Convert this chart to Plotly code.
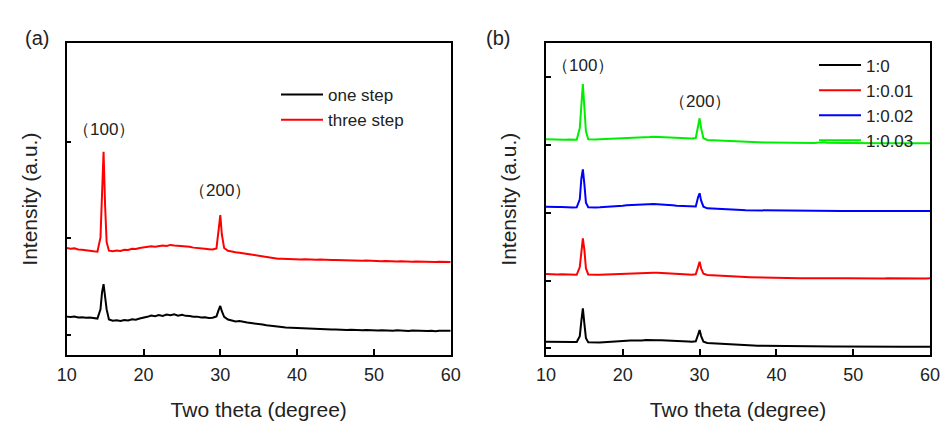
import plotly.graph_objects as go

# shared two-theta grid (degrees)
two_theta = [
    10.0, 10.5, 11.0, 11.5, 12.0, 12.5, 13.0, 13.5, 14.0,
    14.4, 14.6, 14.8, 15.0, 15.2,
    15.5, 16.0, 16.5, 17.0, 17.5, 18.0, 18.5, 19.0, 19.5, 20.0,
    20.5, 21.0, 21.5, 22.0, 22.5, 23.0, 23.5, 24.0, 24.5, 25.0,
    25.5, 26.0, 26.5, 27.0, 27.5, 28.0, 28.5, 29.0, 29.5,
    29.8, 30.0, 30.2,
    30.5, 31.0, 31.5, 32.0, 32.5, 33.0, 33.5, 34.0, 34.5, 35.0,
    35.5, 36.0, 36.5, 37.0, 37.5, 38.0, 38.5, 39.0, 39.5, 40.0,
    40.5, 41.0, 41.5, 42.0, 42.5, 43.0, 43.5, 44.0, 44.5, 45.0,
    45.5, 46.0, 46.5, 47.0, 47.5, 48.0, 48.5, 49.0, 49.5, 50.0,
    50.5, 51.0, 51.5, 52.0, 52.5, 53.0, 53.5, 54.0, 54.5, 55.0,
    55.5, 56.0, 56.5, 57.0, 57.5, 58.0, 58.5, 59.0, 59.5, 60.0,
]

# panel (a)
one_step = [
    190, 186, 192, 181, 184, 178, 182, 174, 170,
    265, 440, 527, 415, 265,
    160, 148, 152, 144, 156, 150, 162, 158, 170, 176, 188, 202, 194, 206, 198,
    212, 204, 214, 200, 208, 198, 196, 188, 190, 182, 184, 176, 178, 192,
    262, 300, 246,
    188, 160, 152, 140, 144, 134, 130, 124, 120, 112,
    108, 100, 94, 90, 86, 82, 78, 76, 72, 70,
    68, 66, 64, 62, 64, 60, 58, 60, 56, 58,
    54, 56, 52, 54, 50, 52, 48, 52, 48, 50,
    46, 50, 46, 48, 44, 48, 44, 46, 42, 46,
    44, 42, 46, 42, 44, 40, 44, 42, 40, 44,
]
three_step = [
    900, 892, 896, 884, 882, 874, 872, 866, 862,
    1010, 1420, 1896, 1340, 960,
    872, 866, 874, 870, 882, 880, 892, 890, 900, 904, 914, 918, 912, 922, 926,
    920, 932, 926, 924, 920, 914, 912, 904, 902, 894, 892, 888, 884, 896,
    1100, 1241, 1040,
    900, 872, 862, 856, 850, 844, 838, 830, 824, 816,
    808, 802, 798, 794, 790, 788, 786, 784, 786, 783,
    782, 784, 780, 781, 778, 780, 777, 778, 775, 776,
    774, 775, 772, 773, 770, 771, 768, 770, 767, 765,
    766, 764, 766, 763, 764, 761, 763, 760, 762, 759,
    760, 758, 759, 757, 758, 756, 757, 755, 756, 755,
]

# panel (b)
ratio_1_0 = [
    97, 95, 98, 94, 96, 93, 95, 92, 94,
    180, 400, 590, 360, 150,
    88, 84, 86, 85, 88, 90, 92, 95, 100, 104, 110, 114, 112, 118, 116,
    122, 118, 124, 120, 118, 114, 112, 108, 106, 104, 102, 100, 98, 104,
    200, 270, 180,
    98, 78, 74, 70, 66, 62, 58, 54, 52, 49,
    46, 44, 42, 40, 38, 37, 36, 35, 34, 34,
    33, 33, 32, 32, 31, 31, 30, 30, 29, 30,
    28, 29, 28, 28, 27, 28, 27, 27, 26, 26,
    27, 26, 25, 26, 25, 25, 24, 25, 24, 24,
    25, 24, 23, 24, 23, 24, 23, 24, 23, 24,
]
ratio_1_001 = [
    1097, 1092, 1095, 1090, 1092, 1088, 1090, 1086, 1085,
    1200, 1480, 1624, 1450, 1180,
    1090, 1082, 1084, 1086, 1088, 1092, 1094, 1098, 1100, 1104, 1108, 1112, 1110, 1114, 1116,
    1112, 1118, 1116, 1114, 1112, 1108, 1104, 1100, 1096, 1094, 1090, 1088, 1084, 1092,
    1200, 1278, 1180,
    1100, 1082, 1078, 1074, 1070, 1066, 1064, 1060, 1058, 1057,
    1054, 1052, 1050, 1048, 1046, 1044, 1042, 1040, 1038, 1036,
    1036, 1035, 1036, 1034, 1035, 1034, 1033, 1034, 1033, 1034,
    1032, 1033, 1034, 1032, 1033, 1032, 1034, 1033, 1032, 1033,
    1034, 1032, 1033, 1032, 1031, 1033, 1032, 1031, 1033, 1032,
    1031, 1032, 1033, 1031, 1032, 1031, 1033, 1032, 1031, 1033,
]
ratio_1_002 = [
    2090, 2086, 2089, 2084, 2086, 2082, 2084, 2080, 2081,
    2200, 2500, 2642, 2420, 2150,
    2082, 2078, 2080, 2082, 2084, 2088, 2090, 2094, 2098, 2104, 2110, 2114, 2112, 2120, 2124,
    2126, 2128, 2130, 2126, 2124, 2120, 2114, 2110, 2104, 2100, 2096, 2094, 2090, 2094,
    2230, 2288, 2180,
    2090, 2066, 2062, 2058, 2055, 2052, 2050, 2048, 2045, 2041,
    2040, 2038, 2037, 2036, 2035, 2034, 2033, 2032, 2032, 2031,
    2030, 2031, 2030, 2029, 2030, 2029, 2028, 2029, 2028, 2029,
    2028, 2027, 2028, 2027, 2028, 2027, 2026, 2028, 2027, 2026,
    2027, 2028, 2026, 2027, 2026, 2027, 2026, 2028, 2027, 2026,
    2027, 2026, 2027, 2026, 2028, 2027, 2026, 2027, 2026, 2027,
]
ratio_1_003 = [
    3085, 3082, 3086, 3080, 3084, 3079, 3082, 3078, 3080,
    3250, 3650, 3901, 3550, 3200,
    3085, 3080, 3082, 3084, 3086, 3090, 3092, 3094, 3098, 3100, 3104, 3108, 3106, 3110, 3114,
    3116, 3118, 3123, 3120, 3122, 3118, 3116, 3112, 3108, 3106, 3102, 3100, 3098, 3104,
    3300, 3395, 3250,
    3100, 3075, 3072, 3068, 3065, 3062, 3060, 3057, 3054, 3050,
    3048, 3046, 3044, 3042, 3040, 3039, 3038, 3037, 3036, 3036,
    3035, 3034, 3035, 3034, 3033, 3034, 3033, 3034, 3033, 3032,
    3036, 3042, 3034, 3031, 3032, 3030, 3031, 3030, 3029, 3030,
    3029, 3028, 3029, 3028, 3027, 3028, 3027, 3028, 3027, 3026,
    3027, 3026, 3027, 3026, 3027, 3026, 3025, 3026, 3025, 3026,
]

x_ticks = [10, 20, 30, 40, 50, 60]
y_ticks_a = [0, 1000, 2000]
y_ticks_b = [0, 1000, 2000, 3000, 4000]

FONT = "Liberation Sans, Arial, sans-serif"
TXT = "#222222"

W, H = 941, 421


def px(xs):
    return xs / W


def py(ys):
    return 1 - ys / H


fig = go.Figure()
series_a = [("one step", one_step, "#000000"), ("three step", three_step, "#ff0000")]
for name, ys, col in series_a:
    fig.add_trace(go.Scatter(x=two_theta, y=ys, mode="lines", name=name,
                             line=dict(color=col, width=2),
                             xaxis="x", yaxis="y", legend="legend"))
series_b = [("1:0", ratio_1_0, "#000000"), ("1:0.01", ratio_1_001, "#ff0000"),
            ("1:0.02", ratio_1_002, "#0000ff"), ("1:0.03", ratio_1_003, "#00ee00")]
for name, ys, col in series_b:
    fig.add_trace(go.Scatter(x=two_theta, y=ys, mode="lines", name=name,
                             line=dict(color=col, width=2),
                             xaxis="x2", yaxis="y2", legend="legend2"))

ytop = py(43.3)
ybot = py(355)

xax = dict(range=[10, 60], tickvals=x_ticks, ticks="inside", ticklen=6, tickwidth=1.5,
           tickcolor="black", showline=True, linecolor="black", linewidth=1.5, mirror=True,
           showgrid=False, zeroline=False, automargin=False,
           tickfont=dict(family=FONT, size=18, color=TXT), ticklabelstandoff=3,
           title=dict(text="Two theta (degree)", font=dict(family=FONT, size=21, color=TXT),
                      standoff=20))
yax = dict(ticks="inside", ticklen=5, tickwidth=1.5, tickcolor="black",
           showticklabels=False, showline=True, linecolor="black", linewidth=1.5,
           mirror=True, showgrid=False, zeroline=False, automargin=False,
           title=dict(text="Intensity (a.u.)", font=dict(family=FONT, size=21, color=TXT),
                      standoff=22))

fig.update_layout(
    width=W, height=H,
    margin=dict(l=0, r=0, t=0, b=0, autoexpand=False),
    paper_bgcolor="white", plot_bgcolor="white",
    xaxis=dict(xax, domain=[px(66.7), px(450.7)], anchor="y"),
    yaxis=dict(yax, domain=[ybot, ytop], range=[-207, 3018], tickvals=y_ticks_a, anchor="x"),
    xaxis2=dict(xax, domain=[px(546), px(930)], anchor="y2"),
    yaxis2=dict(yax, domain=[ybot, ytop], range=[-99, 4502], tickvals=y_ticks_b, anchor="x2"),
    legend=dict(x=px(276), y=py(77), xanchor="left", yanchor="top",
                bgcolor="rgba(0,0,0,0)", font=dict(family=FONT, size=17, color=TXT),
                itemwidth=42, tracegroupgap=0),
    legend2=dict(x=px(814), y=py(47.5), xanchor="left", yanchor="top",
                 bgcolor="rgba(0,0,0,0)", font=dict(family=FONT, size=17, color=TXT),
                 itemwidth=42, tracegroupgap=0),
    showlegend=True,
)

ann_font = dict(family=FONT, size=17, color=TXT)
labels = [
    ("x", 14.8, "（100）", 129),
    ("x", 30.0, "（200）", 191),
    ("x2", 14.8, "（100）", 66),
    ("x2", 30.0, "（200）", 101.7),
]
for xr, xv, txt, ypix in labels:
    fig.add_annotation(x=xv, xref=xr, y=py(ypix), yref="paper", text=txt,
                       showarrow=False, font=ann_font, xanchor="center", yanchor="middle")

fig.add_annotation(x=px(23), y=py(25), xref="paper", yref="paper", text="(a)",
                   showarrow=False, font=dict(family=FONT, size=20, color=TXT))
fig.add_annotation(x=px(498), y=py(25), xref="paper", yref="paper", text="(b)",
                   showarrow=False, font=dict(family=FONT, size=20, color=TXT))

# remove the default page margin so the 941x421 figure fills the window exactly
fig.write_html("out.html", config={"displayModeBar": False},
               post_script="document.body.style.margin='0';document.body.style.overflow='hidden';")
